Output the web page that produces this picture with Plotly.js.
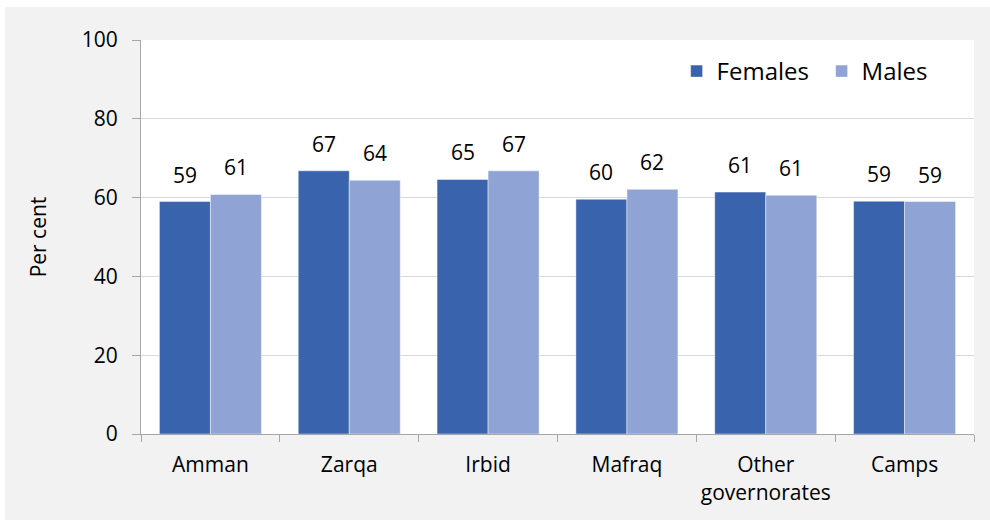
<!DOCTYPE html>
<html>
<head>
<meta charset="utf-8">
<script src="https://cdn.plot.ly/plotly-3.0.1.min.js"></script>
<style>
  html, body { margin: 0; padding: 0; background: #ffffff; }
  #chart { position: absolute; left: 5px; top: 7px; width: 985px; height: 513px; }
</style>
</head>
<body>
<div id="chart"></div>
<script>
const categories = ["Amman", "Zarqa", "Irbid", "Mafraq", "Other<br>governorates", "Camps"];
const females = [59.0, 66.8, 64.6, 59.6, 61.4, 59.1];
const males = [60.8, 64.4, 66.8, 62.1, 60.6, 59.0];
const femaleLabels = ["59", "67", "65", "60", "61", "59"];
const maleLabels = ["61", "64", "67", "62", "61", "59"];
const yTicks = [0, 20, 40, 60, 80, 100];

const FONT = "Open Sans, Noto Sans, sans-serif";
const BARGAP = 0.265;
const halfOffset = (1 - BARGAP) / 4;

const traces = [
  {
    type: "bar", name: "Females", x: categories, y: females,
    marker: { color: "#3a63ad", line: { color: "rgba(255,255,255,0.45)", width: 1 } },
    hoverinfo: "skip"
  },
  {
    type: "bar", name: "Males", x: categories, y: males,
    marker: { color: "#8fa3d5", line: { color: "rgba(255,255,255,0.45)", width: 1 } },
    hoverinfo: "skip"
  }
];

const annotations = [];
categories.forEach((c, i) => {
  annotations.push({ x: i - halfOffset, y: females[i], xref: "x", yref: "y", text: femaleLabels[i],
    showarrow: false, yanchor: "bottom", yshift: 11, font: { family: FONT, size: 21, color: "#000" } });
  annotations.push({ x: i + halfOffset, y: males[i], xref: "x", yref: "y", text: maleLabels[i],
    showarrow: false, yanchor: "bottom", yshift: 11, font: { family: FONT, size: 21, color: "#000" } });
});

const layout = {
  width: 985, height: 513,
  paper_bgcolor: "#f2f2f2",
  plot_bgcolor: "#ffffff",
  margin: { l: 136, r: 16, t: 33, b: 86 },
  barmode: "group",
  bargap: BARGAP,
  bargroupgap: 0,
  font: { family: FONT, size: 21, color: "#000" },
  showlegend: true,
  legend: {
    orientation: "h", x: 0.643, xanchor: "left", y: 0.92, yanchor: "middle",
    bgcolor: "rgba(0,0,0,0)", font: { family: FONT, size: 24, color: "#000" },
    itemwidth: 30, entrywidth: 100, entrywidthmode: "pixels", tracegroupgap: 0
  },
  xaxis: {
    type: "category",
    showline: true, linecolor: "#a6a6a6", linewidth: 1,
    ticks: "outside", tickson: "boundaries", ticklen: 7, tickcolor: "#a6a6a6",
    ticklabelstandoff: 12, tickangle: 0,
    tickfont: { family: FONT, size: 21, color: "#000" },
    showgrid: false, zeroline: false, fixedrange: true, automargin: false
  },
  yaxis: {
    range: [0, 100], tickvals: yTicks, ticktext: yTicks.map(String),
    showline: true, linecolor: "#a6a6a6", linewidth: 1,
    ticks: "outside", ticklen: 8, tickcolor: "#a6a6a6",
    ticklabelstandoff: 10,
    showgrid: true, gridcolor: "#d9d9d9", gridwidth: 1, zeroline: false,
    tickfont: { family: FONT, size: 21, color: "#000" },
    title: { text: "Per cent", font: { family: FONT, size: 21, color: "#000" }, standoff: 29 },
    automargin: false, fixedrange: true
  },
  annotations: annotations
};

Plotly.newPlot("chart", traces, layout, { displayModeBar: false, staticPlot: true });
</script>
</body>
</html>
